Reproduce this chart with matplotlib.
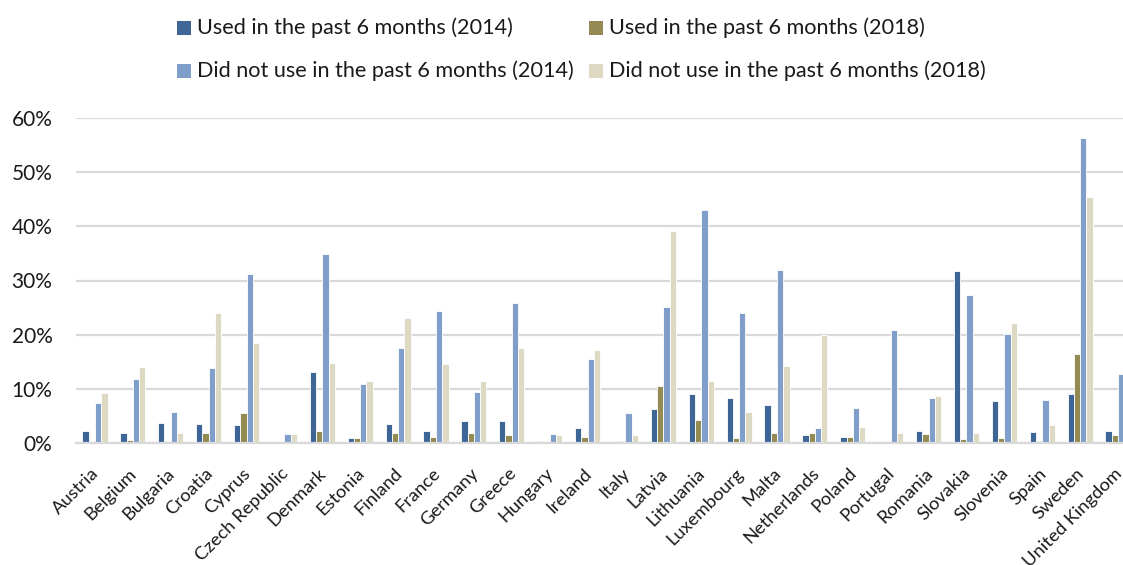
import matplotlib
matplotlib.use("Agg")
import matplotlib.pyplot as plt
import numpy as np
from matplotlib.patches import Rectangle
from matplotlib.transforms import ScaledTranslation

countries = ["Austria", "Belgium", "Bulgaria", "Croatia", "Cyprus", "Czech Republic",
             "Denmark", "Estonia", "Finland", "France", "Germany", "Greece", "Hungary",
             "Ireland", "Italy", "Latvia", "Lithuania", "Luxembourg", "Malta",
             "Netherlands", "Poland", "Portugal", "Romania", "Slovakia", "Slovenia",
             "Spain", "Sweden", "United Kingdom"]

used_2014 = [2.3, 1.9, 3.7, 3.6, 3.4, 0.2, 13.2, 1.0, 3.5, 2.2, 4.1, 4.1, 0.4,
             2.8, 0.4, 6.2, 9.0, 8.4, 7.0, 1.4, 1.05, 0.25, 2.2, 31.7, 7.7, 2.1, 9.1, 2.2]
used_2018 = [0.2, 0.6, 0.1, 1.9, 5.5, 0.0, 2.3, 0.9, 1.8, 1.2, 1.9, 1.5, 0.0,
             1.1, 0.2, 10.5, 4.3, 0.9, 1.9, 1.9, 1.1, 0.0, 1.7, 0.7, 1.0, 0.4, 16.4, 1.5]
notused_2014 = [7.4, 11.9, 5.7, 13.9, 31.2, 1.7, 34.9, 10.9, 17.5, 24.4, 9.5, 25.8, 1.7,
                15.6, 5.6, 25.2, 43.0, 24.0, 31.9, 2.8, 6.4, 20.9, 8.3, 27.4, 20.1, 8.0, 56.4, 12.7]
notused_2018 = [9.3, 14.1, 1.8, 24.0, 18.5, 1.7, 14.8, 11.5, 23.1, 14.6, 11.4, 17.5, 1.4,
                17.2, 1.5, 39.1, 11.5, 5.8, 14.3, 20.0, 3.0, 1.9, 8.6, 1.8, 22.2, 3.4, 45.4, 10.0]

series_labels = ["Used in the past 6 months (2014)", "Used in the past 6 months (2018)",
                 "Did not use in the past 6 months (2014)", "Did not use in the past 6 months (2018)"]
colors = ["#3d6696", "#948a54", "#7f9ec9", "#ddd9c3"]
yticks = [0, 10, 20, 30, 40, 50, 60]

plt.rcParams['font.family'] = ['Lato', 'DejaVu Sans']

W, H = 1123, 565
fig = plt.figure(figsize=(W / 100, H / 100), dpi=100)
left = 76 / W
bottom = (H - 443) / H
top = (H - 118) / H
right_px = 1137
ax = fig.add_axes([left, bottom, (right_px - 76) / W, top - bottom])

x = np.arange(len(countries))
bw = 0.166
all_series = [used_2014, used_2018, notused_2014, notused_2018]
for i, (vals, c) in enumerate(zip(all_series, colors)):
    ax.bar(x + (i - 1.5) * bw, vals, width=bw, color=c, edgecolor="white",
           linewidth=0.6, zorder=3)

ax.set_xlim(-0.5, len(countries) - 0.5)
ax.set_ylim(0, 60)
ax.set_yticks(yticks)
ax.set_yticklabels([f"{v}%" for v in yticks], fontsize=15, color="#1a1a1a")
ax.yaxis.grid(True, color="#d9d9d9", linewidth=1.6, zorder=0)
ax.set_xticks(x)
ax.set_xticklabels(countries, rotation=45, ha="right", va="center",
                   rotation_mode="anchor", fontsize=13.2, color="#1a1a1a")
ax.tick_params(axis="both", length=0)
ax.tick_params(axis="y", pad=17)
ax.tick_params(axis="x", pad=20)
shift = ScaledTranslation(1.5 / 100, 0, fig.dpi_scale_trans)
for lab in ax.get_xticklabels():
    lab.set_transform(lab.get_transform() + shift)
for s in ["top", "right", "left"]:
    ax.spines[s].set_visible(False)
ax.spines["bottom"].set_color("#d9d9d9")
ax.spines["bottom"].set_linewidth(1.6)
ax.spines["bottom"].set_zorder(4)

# legend (manual)
leg_pos = [(177, 27.5, 197), (589, 27.5, 609), (177, 71, 197), (589, 71, 609)]
for (px, py, tx), lab, c in zip(leg_pos, series_labels, colors):
    sq = 14
    fig.patches.append(Rectangle((px / W, (H - py - sq / 2) / H), sq / W, sq / H,
                                 transform=fig.transFigure, facecolor=c, edgecolor="none"))
    fig.text(tx / W, (H - py) / H, lab, fontsize=15.6, va="center", ha="left",
             color="#1a1a1a")

fig.savefig("out.png", dpi=100)
